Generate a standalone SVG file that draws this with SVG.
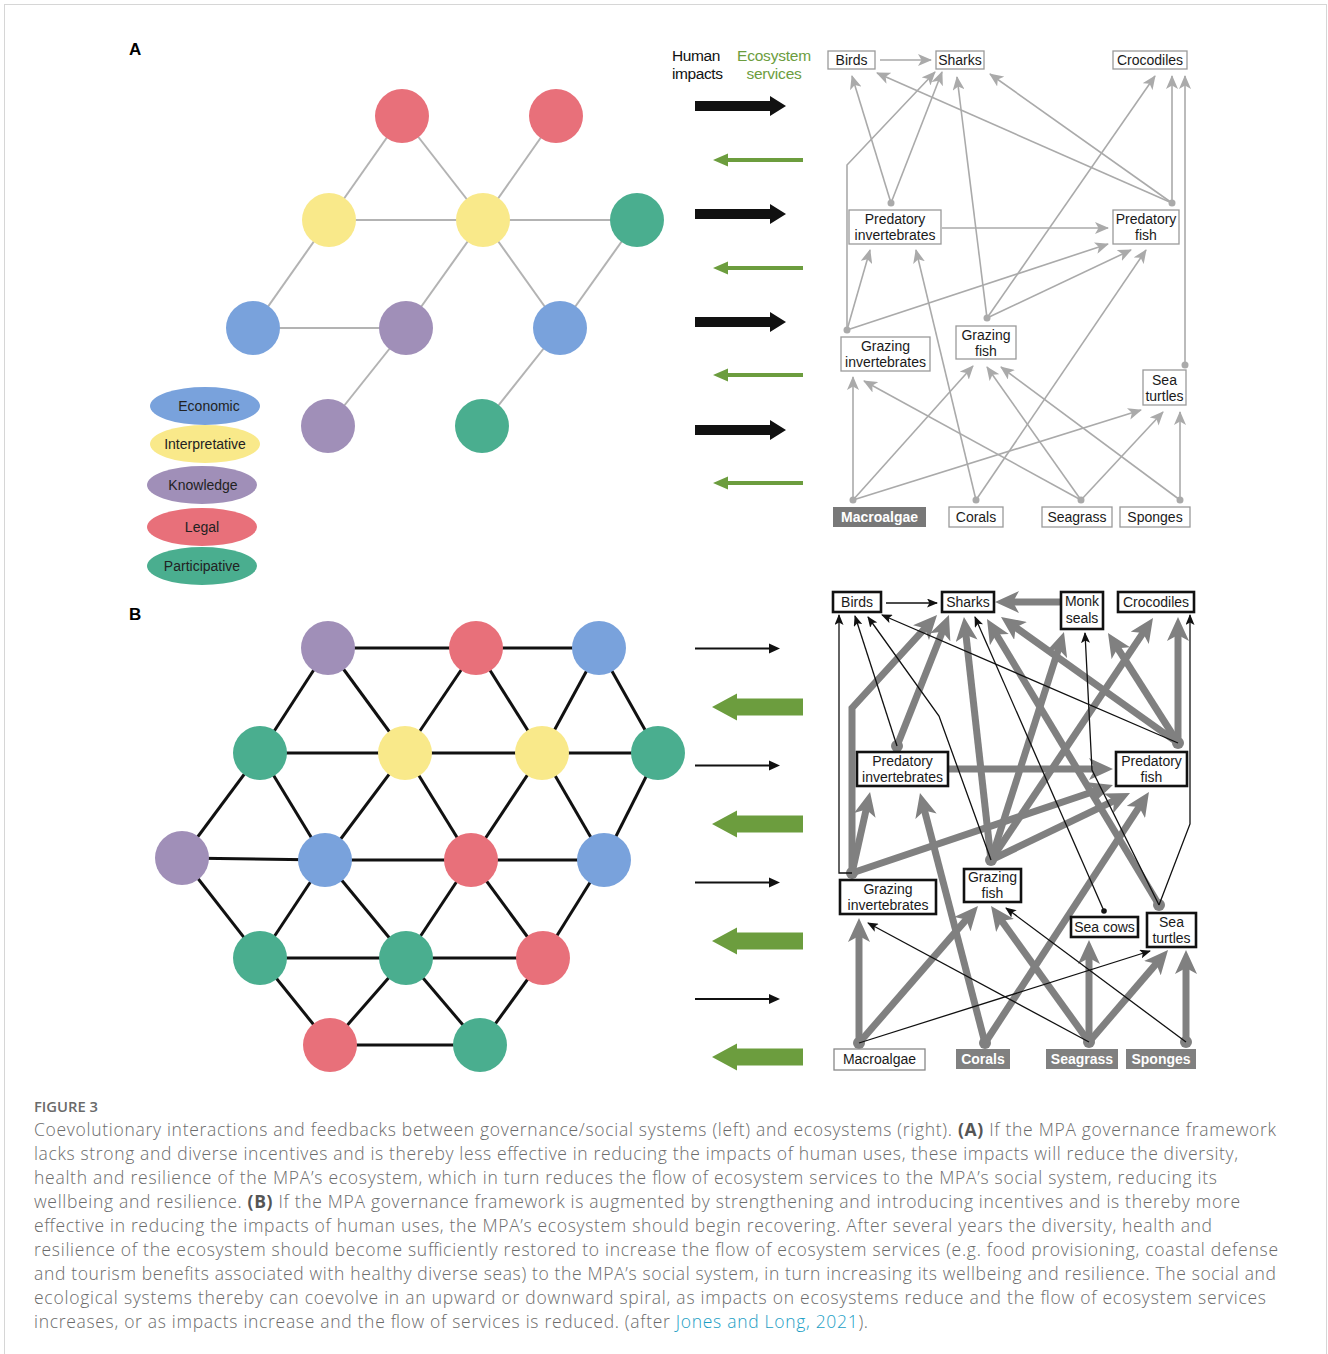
<svg xmlns="http://www.w3.org/2000/svg" width="1328" height="1354" viewBox="0 0 1328 1354">
<style>
.lbl{font-family:"Liberation Sans",Arial,sans-serif;font-size:14px;fill:#1a1a1a;text-anchor:middle}
.wl{font-family:"Liberation Sans",Arial,sans-serif;font-size:14px;font-weight:bold;fill:#fff;text-anchor:middle}
.boxA{fill:#fff;stroke:#9a9a9a;stroke-width:1.3}
.boxB{fill:#fff;stroke:#111;stroke-width:2.6}
.eA{fill:none;stroke:#aaa;stroke-width:1.6;marker-end:url(#mA)}
.eB{fill:none;stroke:#808080;stroke-width:7;marker-end:url(#mB)}
.eK{fill:none;stroke:#111;stroke-width:1.3;marker-end:url(#mK)}
.gA{stroke:#b3b3b3;stroke-width:2}
.gB{stroke:#111;stroke-width:3}
.red{fill:#e8707a}.yel{fill:#f9e98a}.grn{fill:#4aae8f}.blu{fill:#79a2dc}.pur{fill:#a08fb8}
.cap{font-family:"Open Sans","Lato","Liberation Sans",sans-serif;font-size:17.5px;font-weight:300;fill:#6b6b6b}
.leg{font-family:"Liberation Sans",Arial,sans-serif;font-size:14px;fill:#222;text-anchor:middle}
.hd{font-family:"Liberation Sans",Arial,sans-serif;font-size:15.5px}
</style>
<defs>
<marker id="mA" markerUnits="userSpaceOnUse" markerWidth="14" markerHeight="12" refX="13" refY="6" orient="auto"><path d="M0,0 L14,6 L0,12 L3.5,6 z" fill="#aaa"/></marker>
<marker id="mB" markerUnits="userSpaceOnUse" markerWidth="24" markerHeight="22" refX="10" refY="11" orient="auto"><path d="M0,0 L24,11 L0,22 L6,11 z" fill="#808080"/></marker>
<marker id="mK" markerUnits="userSpaceOnUse" markerWidth="11" markerHeight="9" refX="10" refY="4.5" orient="auto"><path d="M0,0 L11,4.5 L0,9 L2.5,4.5 z" fill="#111"/></marker>
</defs>
<rect x="0" y="0" width="1328" height="1354" fill="#fff"/>
<rect x="4.5" y="4.5" width="1322" height="1370" fill="none" stroke="#d6d6d6"/>

<text x="129" y="55" font-family="Liberation Sans,Arial,sans-serif" font-size="17" font-weight="bold">A</text>
<text x="129" y="620" font-family="Liberation Sans,Arial,sans-serif" font-size="17" font-weight="bold">B</text>

<!-- Panel A social network -->
<g id="netA">
<g class="gA">
<line x1="402" y1="116" x2="329" y2="220"/><line x1="402" y1="116" x2="483" y2="220"/><line x1="556" y1="116" x2="483" y2="220"/>
<line x1="329" y1="220" x2="483" y2="220"/><line x1="483" y1="220" x2="637" y2="220"/>
<line x1="329" y1="220" x2="253" y2="328"/><line x1="483" y1="220" x2="406" y2="328"/><line x1="483" y1="220" x2="560" y2="328"/>
<line x1="637" y1="220" x2="560" y2="328"/><line x1="253" y1="328" x2="406" y2="328"/>
<line x1="406" y1="328" x2="328" y2="426"/><line x1="560" y1="328" x2="482" y2="426"/>
</g>
<circle class="red" cx="402" cy="116" r="27"/><circle class="red" cx="556" cy="116" r="27"/>
<circle class="yel" cx="329" cy="220" r="27"/><circle class="yel" cx="483" cy="220" r="27"/><circle class="grn" cx="637" cy="220" r="27"/>
<circle class="blu" cx="253" cy="328" r="27"/><circle class="pur" cx="406" cy="328" r="27"/><circle class="blu" cx="560" cy="328" r="27"/>
<circle class="pur" cx="328" cy="426" r="27"/><circle class="grn" cx="482" cy="426" r="27"/>
</g>

<g id="legend">
<ellipse class="blu" cx="205" cy="406" rx="55" ry="19"/><text class="leg" x="209" y="411">Economic</text>
<ellipse class="yel" cx="205" cy="444" rx="55" ry="19"/><text class="leg" x="205" y="449">Interpretative</text>
<ellipse class="pur" cx="202" cy="485" rx="55" ry="19"/><text class="leg" x="203" y="490">Knowledge</text>
<ellipse class="red" cx="202" cy="527" rx="55" ry="19"/><text class="leg" x="202" y="532">Legal</text>
<ellipse class="grn" cx="202" cy="566" rx="55" ry="19"/><text class="leg" x="202" y="571">Participative</text>
</g>

<!-- Panel A flow arrows -->
<g id="flowA">
<text class="hd" fill="#111" letter-spacing="-0.4"><tspan x="672" y="61">Human</tspan><tspan x="672" y="78.5">impacts</tspan></text>
<text class="hd" fill="#6c9d3e" text-anchor="middle" letter-spacing="-0.2"><tspan x="774" y="61">Ecosystem</tspan><tspan x="774" y="78.5">services</tspan></text>
<g fill="#111">
<polygon points="695,101 770,101 770,96 786,106 770,116 770,111 695,111"/>
<polygon points="695,209 770,209 770,204 786,214 770,224 770,219 695,219"/>
<polygon points="695,317 770,317 770,312 786,322 770,332 770,327 695,327"/>
<polygon points="695,425 770,425 770,420 786,430 770,440 770,435 695,435"/>
</g>
<g fill="#6c9d3e">
<polygon points="803,158 728,158 728,153.5 713,160 728,166.5 728,162 803,162"/>
<polygon points="803,266 728,266 728,261.5 713,268 728,274.5 728,270 803,270"/>
<polygon points="803,373 728,373 728,368.5 713,375 728,381.5 728,377 803,377"/>
<polygon points="803,481 728,481 728,476.5 713,483 728,489.5 728,485 803,485"/>
</g>
</g>

<!-- Panel A ecosystem connectors -->
<g id="edgesA">
<line class="eA" x1="880" y1="60" x2="931" y2="60"/>
<line class="eA" x1="891" y1="203" x2="852" y2="76"/>
<line class="eA" x1="891" y1="203" x2="942" y2="72"/>
<path class="eA" d="M847,330 L847,165 L935,72"/>
<line class="eA" x1="1172" y1="203" x2="877" y2="73"/>
<line class="eA" x1="1172" y1="203" x2="990" y2="74"/>
<line class="eA" x1="1172" y1="203" x2="1172" y2="76"/>
<line class="eA" x1="1185" y1="365" x2="1185" y2="76"/>
<line class="eA" x1="987" y1="318" x2="957" y2="77"/>
<line class="eA" x1="987" y1="318" x2="1155" y2="76"/>
<line class="eA" x1="942" y1="228" x2="1108" y2="228"/>
<line class="eA" x1="847" y1="330" x2="870" y2="250"/>
<line class="eA" x1="847" y1="330" x2="1108" y2="244"/>
<line class="eA" x1="987" y1="318" x2="1131" y2="250"/>
<line class="eA" x1="976" y1="500" x2="916" y2="250"/>
<line class="eA" x1="976" y1="500" x2="1146" y2="250"/>
<line class="eA" x1="853" y1="500" x2="853" y2="377"/>
<line class="eA" x1="853" y1="500" x2="973" y2="366"/>
<line class="eA" x1="853" y1="500" x2="1141" y2="410"/>
<line class="eA" x1="1081" y1="500" x2="864" y2="381"/>
<line class="eA" x1="1081" y1="500" x2="987" y2="367"/>
<line class="eA" x1="1081" y1="500" x2="1163" y2="412"/>
<line class="eA" x1="1180" y1="500" x2="1001" y2="367"/>
<line class="eA" x1="1180" y1="500" x2="1180" y2="412"/>
<g fill="#aaa">
<circle cx="891" cy="203" r="3.5"/><circle cx="1172" cy="203" r="3.5"/><circle cx="847" cy="330" r="3.5"/>
<circle cx="987" cy="318" r="3.5"/><circle cx="1185" cy="365" r="3.5"/><circle cx="853" cy="500" r="3.5"/>
<circle cx="976" cy="500" r="3.5"/><circle cx="1081" cy="500" r="3.5"/><circle cx="1180" cy="500" r="3.5"/>
</g>
</g>

<!-- Panel A ecosystem nodes -->
<g id="A-birds"><rect class="boxA" x="828" y="51" width="47" height="18"/><text class="lbl" x="851.5" y="65">Birds</text></g>
<g id="A-sharks"><rect class="boxA" x="936" y="51" width="48" height="18"/><text class="lbl" x="960" y="65">Sharks</text></g>
<g id="A-crocodiles"><rect class="boxA" x="1113" y="51" width="74" height="18"/><text class="lbl" x="1150" y="65">Crocodiles</text></g>
<g id="A-predinv"><rect class="boxA" x="849" y="210" width="92" height="34"/><text class="lbl" x="895" y="224">Predatory</text><text class="lbl" x="895" y="240">invertebrates</text></g>
<g id="A-predfish"><rect class="boxA" x="1113" y="210" width="66" height="34"/><text class="lbl" x="1146" y="224">Predatory</text><text class="lbl" x="1146" y="240">fish</text></g>
<g id="A-grazinv"><rect class="boxA" x="841" y="337" width="89" height="34"/><text class="lbl" x="885.5" y="351">Grazing</text><text class="lbl" x="885.5" y="367">invertebrates</text></g>
<g id="A-grazfish"><rect class="boxA" x="956" y="326" width="60" height="33"/><text class="lbl" x="986" y="340">Grazing</text><text class="lbl" x="986" y="356">fish</text></g>
<g id="A-seaturtles"><rect class="boxA" x="1143" y="370" width="43" height="35"/><text class="lbl" x="1164.5" y="385">Sea</text><text class="lbl" x="1164.5" y="401">turtles</text></g>
<g id="A-macroalgae"><rect x="833" y="507" width="93" height="20" fill="#787878"/><text class="wl" x="879.5" y="522">Macroalgae</text></g>
<g id="A-corals"><rect class="boxA" x="949" y="507" width="54" height="20"/><text class="lbl" x="976" y="522">Corals</text></g>
<g id="A-seagrass"><rect class="boxA" x="1042" y="507" width="70" height="20"/><text class="lbl" x="1077" y="522">Seagrass</text></g>
<g id="A-sponges"><rect class="boxA" x="1120" y="507" width="70" height="20"/><text class="lbl" x="1155" y="522">Sponges</text></g>

<!-- Panel B social network -->
<g id="netB">
<g class="gB">
<line x1="328" y1="648" x2="476" y2="648"/><line x1="476" y1="648" x2="599" y2="648"/>
<line x1="260" y1="753" x2="405" y2="753"/><line x1="405" y1="753" x2="542" y2="753"/><line x1="542" y1="753" x2="658" y2="753"/>
<line x1="182" y1="858" x2="325" y2="860"/><line x1="325" y1="860" x2="471" y2="860"/><line x1="471" y1="860" x2="604" y2="860"/>
<line x1="260" y1="958" x2="406" y2="958"/><line x1="406" y1="958" x2="543" y2="958"/>
<line x1="330" y1="1045" x2="480" y2="1045"/>
<line x1="328" y1="648" x2="260" y2="753"/><line x1="328" y1="648" x2="405" y2="753"/>
<line x1="476" y1="648" x2="405" y2="753"/><line x1="476" y1="648" x2="542" y2="753"/>
<line x1="599" y1="648" x2="542" y2="753"/><line x1="599" y1="648" x2="658" y2="753"/>
<line x1="260" y1="753" x2="182" y2="858"/><line x1="260" y1="753" x2="325" y2="860"/>
<line x1="405" y1="753" x2="325" y2="860"/><line x1="405" y1="753" x2="471" y2="860"/>
<line x1="542" y1="753" x2="471" y2="860"/><line x1="542" y1="753" x2="604" y2="860"/>
<line x1="658" y1="753" x2="604" y2="860"/>
<line x1="182" y1="858" x2="260" y2="958"/><line x1="325" y1="860" x2="260" y2="958"/><line x1="325" y1="860" x2="406" y2="958"/>
<line x1="471" y1="860" x2="406" y2="958"/><line x1="471" y1="860" x2="543" y2="958"/><line x1="604" y1="860" x2="543" y2="958"/>
<line x1="260" y1="958" x2="330" y2="1045"/><line x1="406" y1="958" x2="330" y2="1045"/><line x1="406" y1="958" x2="480" y2="1045"/>
<line x1="543" y1="958" x2="480" y2="1045"/>
</g>
<circle class="pur" cx="328" cy="648" r="27"/><circle class="red" cx="476" cy="648" r="27"/><circle class="blu" cx="599" cy="648" r="27"/>
<circle class="grn" cx="260" cy="753" r="27"/><circle class="yel" cx="405" cy="753" r="27"/><circle class="yel" cx="542" cy="753" r="27"/><circle class="grn" cx="658" cy="753" r="27"/>
<circle class="pur" cx="182" cy="858" r="27"/><circle class="blu" cx="325" cy="860" r="27"/><circle class="red" cx="471" cy="860" r="27"/><circle class="blu" cx="604" cy="860" r="27"/>
<circle class="grn" cx="260" cy="958" r="27"/><circle class="grn" cx="406" cy="958" r="27"/><circle class="red" cx="543" cy="958" r="27"/>
<circle class="red" cx="330" cy="1045" r="27"/><circle class="grn" cx="480" cy="1045" r="27"/>
</g>

<!-- Panel B flow arrows -->
<g id="flowB">
<g stroke="#111" stroke-width="2" fill="#111">
<line x1="695" y1="648.5" x2="771" y2="648.5"/><polygon points="769,643.5 780,648.5 769,653.5" stroke="none"/>
<line x1="695" y1="765.5" x2="771" y2="765.5"/><polygon points="769,760.5 780,765.5 769,770.5" stroke="none"/>
<line x1="695" y1="882.5" x2="771" y2="882.5"/><polygon points="769,877.5 780,882.5 769,887.5" stroke="none"/>
<line x1="695" y1="999" x2="771" y2="999"/><polygon points="769,994 780,999 769,1004" stroke="none"/>
</g>
<g fill="#6c9d3e">
<polygon points="803,698.5 737,698.5 737,693.5 712,707 737,720.5 737,715.5 803,715.5"/>
<polygon points="803,815.5 737,815.5 737,810.5 712,824 737,837.5 737,832.5 803,832.5"/>
<polygon points="803,932.5 737,932.5 737,927.5 712,941 737,954.5 737,949.5 803,949.5"/>
<polygon points="803,1048.5 737,1048.5 737,1043.5 712,1057 737,1070.5 737,1065.5 803,1065.5"/>
</g>
</g>

<!-- Panel B ecosystem connectors -->
<g id="edgesB">
<line class="eB" x1="1061" y1="602" x2="1009" y2="602"/>
<path class="eB" d="M852,873 L852,708 L927.6,625.3"/>
<line class="eB" x1="897" y1="746" x2="943.8" y2="628"/>
<line class="eB" x1="991" y1="860" x2="965.5" y2="630.9"/>
<line class="eB" x1="1159" y1="905" x2="994.2" y2="631"/>
<line class="eB" x1="1178" y1="743" x2="1012.4" y2="625.1"/>
<line class="eB" x1="991" y1="860" x2="1059.7" y2="645.3"/>
<line class="eB" x1="1178" y1="743" x2="1115.5" y2="644.8"/>
<line class="eB" x1="991" y1="860" x2="1145.2" y2="629.6"/>
<line class="eB" x1="1178" y1="743" x2="1178" y2="631"/>
<line class="eB" x1="948" y1="769" x2="1099" y2="769"/>
<line class="eB" x1="852" y1="873" x2="867" y2="805.7"/>
<line class="eB" x1="852" y1="873" x2="1099.7" y2="789.5"/>
<line class="eB" x1="991" y1="860" x2="1117.4" y2="799.1"/>
<line class="eB" x1="985" y1="1043" x2="1141.3" y2="803.7"/>
<line class="eB" x1="985" y1="1043" x2="923.5" y2="806.6"/>
<line class="eB" x1="859" y1="1043" x2="859" y2="932"/>
<line class="eB" x1="859" y1="1043" x2="968.8" y2="916.6"/>
<line class="eB" x1="1089" y1="1042" x2="999.2" y2="917.4"/>
<line class="eB" x1="1089" y1="1042" x2="1089" y2="954"/>
<line class="eB" x1="1089" y1="1042" x2="1158.9" y2="960.6"/>
<line class="eB" x1="1186" y1="1042" x2="1186" y2="964"/>
<g fill="#808080">
<circle cx="897" cy="746" r="6"/><circle cx="1178" cy="743" r="6"/><circle cx="852" cy="873" r="6"/>
<circle cx="991" cy="860" r="6"/><circle cx="1159" cy="905" r="6"/><circle cx="859" cy="1043" r="6"/>
<circle cx="985" cy="1043" r="6"/><circle cx="1089" cy="1042" r="6"/><circle cx="1186" cy="1042" r="6"/>
</g>
<line class="eK" x1="886" y1="603" x2="937" y2="603"/>
<path class="eK" d="M852,873 L839,873 L839,615"/>
<line class="eK" x1="897" y1="746" x2="855" y2="616"/>
<path class="eK" d="M991,860 L939,716 L868,617"/>
<line class="eK" x1="1178" y1="743" x2="882" y2="615"/>
<line class="eK" x1="1104" y1="911" x2="975" y2="617"/>
<path class="eK" d="M1159,905 L1092,770 L1085,633"/>
<path class="eK" d="M1159,905 L1190,824 L1190,615"/>
<line class="eK" x1="859" y1="1043" x2="1150" y2="951"/>
<line class="eK" x1="1089" y1="1042" x2="868" y2="923"/>
<line class="eK" x1="1186" y1="1042" x2="1006" y2="908"/>
<circle cx="1104" cy="911" r="2.8" fill="#111"/>
</g>

<!-- Panel B ecosystem nodes -->
<g id="B-birds"><rect class="boxB" x="833" y="592" width="48" height="20"/><text class="lbl" x="857" y="607">Birds</text></g>
<g id="B-sharks"><rect class="boxB" x="942" y="592" width="52" height="20"/><text class="lbl" x="968" y="607">Sharks</text></g>
<g id="B-monkseals"><rect class="boxB" x="1061" y="592" width="42" height="37"/><text class="lbl" x="1082" y="606">Monk</text><text class="lbl" x="1082" y="623">seals</text></g>
<g id="B-crocodiles"><rect class="boxB" x="1118" y="592" width="76" height="20"/><text class="lbl" x="1156" y="607">Crocodiles</text></g>
<g id="B-predinv"><rect class="boxB" x="857" y="752" width="91" height="34"/><text class="lbl" x="902.5" y="766">Predatory</text><text class="lbl" x="902.5" y="782">invertebrates</text></g>
<g id="B-predfish"><rect class="boxB" x="1116" y="752" width="71" height="34"/><text class="lbl" x="1151.5" y="766">Predatory</text><text class="lbl" x="1151.5" y="782">fish</text></g>
<g id="B-grazinv"><rect class="boxB" x="840" y="880" width="96" height="34"/><text class="lbl" x="888" y="894">Grazing</text><text class="lbl" x="888" y="910">invertebrates</text></g>
<g id="B-grazfish"><rect class="boxB" x="964" y="869" width="57" height="33"/><text class="lbl" x="992.5" y="882">Grazing</text><text class="lbl" x="992.5" y="898">fish</text></g>
<g id="B-seacows"><rect class="boxB" x="1071" y="917" width="67" height="20"/><text class="lbl" x="1104.5" y="932">Sea cows</text></g>
<g id="B-seaturtles"><rect class="boxB" x="1147" y="913" width="49" height="34"/><text class="lbl" x="1171.5" y="927">Sea</text><text class="lbl" x="1171.5" y="943">turtles</text></g>
<g id="B-macroalgae"><rect x="834" y="1049" width="91" height="21" fill="#fff" stroke="#888" stroke-width="1.3"/><text class="lbl" x="879.5" y="1064">Macroalgae</text></g>
<g id="B-corals"><rect x="956" y="1049" width="54" height="20" fill="#808080"/><text class="wl" x="983" y="1064">Corals</text></g>
<g id="B-seagrass"><rect x="1046" y="1049" width="72" height="20" fill="#808080"/><text class="wl" x="1082" y="1064">Seagrass</text></g>
<g id="B-sponges"><rect x="1126" y="1049" width="70" height="20" fill="#808080"/><text class="wl" x="1161" y="1064">Sponges</text></g>

<!-- Caption -->
<g id="caption">
<text x="34" y="1112" font-family="Open Sans,Liberation Sans,sans-serif" font-size="13.5" font-weight="600" fill="#6a6a6a" textLength="64" lengthAdjust="spacingAndGlyphs">FIGURE 3</text>
<text class="cap" x="34" y="1136" textLength="1242" lengthAdjust="spacing">Coevolutionary interactions and feedbacks between governance/social systems (left) and ecosystems (right). <tspan font-weight="bold" fill="#555">(A)</tspan> If the MPA governance framework</text>
<text class="cap" x="34" y="1160" textLength="1204" lengthAdjust="spacing">lacks strong and diverse incentives and is thereby less effective in reducing the impacts of human uses, these impacts will reduce the diversity,</text>
<text class="cap" x="34" y="1184" textLength="1183" lengthAdjust="spacing">health and resilience of the MPA’s ecosystem, which in turn reduces the flow of ecosystem services to the MPA’s social system, reducing its</text>
<text class="cap" x="34" y="1208" textLength="1206" lengthAdjust="spacing">wellbeing and resilience. <tspan font-weight="bold" fill="#555">(B)</tspan> If the MPA governance framework is augmented by strengthening and introducing incentives and is thereby more</text>
<text class="cap" x="34" y="1232" textLength="1178" lengthAdjust="spacing">effective in reducing the impacts of human uses, the MPA’s ecosystem should begin recovering. After several years the diversity, health and</text>
<text class="cap" x="34" y="1256" textLength="1244" lengthAdjust="spacing">resilience of the ecosystem should become sufficiently restored to increase the flow of ecosystem services (e.g. food provisioning, coastal defense</text>
<text class="cap" x="34" y="1280" textLength="1242" lengthAdjust="spacing">and tourism benefits associated with healthy diverse seas) to the MPA’s social system, in turn increasing its wellbeing and resilience. The social and</text>
<text class="cap" x="34" y="1304" textLength="1232" lengthAdjust="spacing">ecological systems thereby can coevolve in an upward or downward spiral, as impacts on ecosystems reduce and the flow of ecosystem services</text>
<text class="cap" x="34" y="1328" textLength="834" lengthAdjust="spacing">increases, or as impacts increase and the flow of services is reduced. (after <tspan fill="#1a9ec4">Jones and Long, 2021</tspan>).</text>
</g>
</svg>
